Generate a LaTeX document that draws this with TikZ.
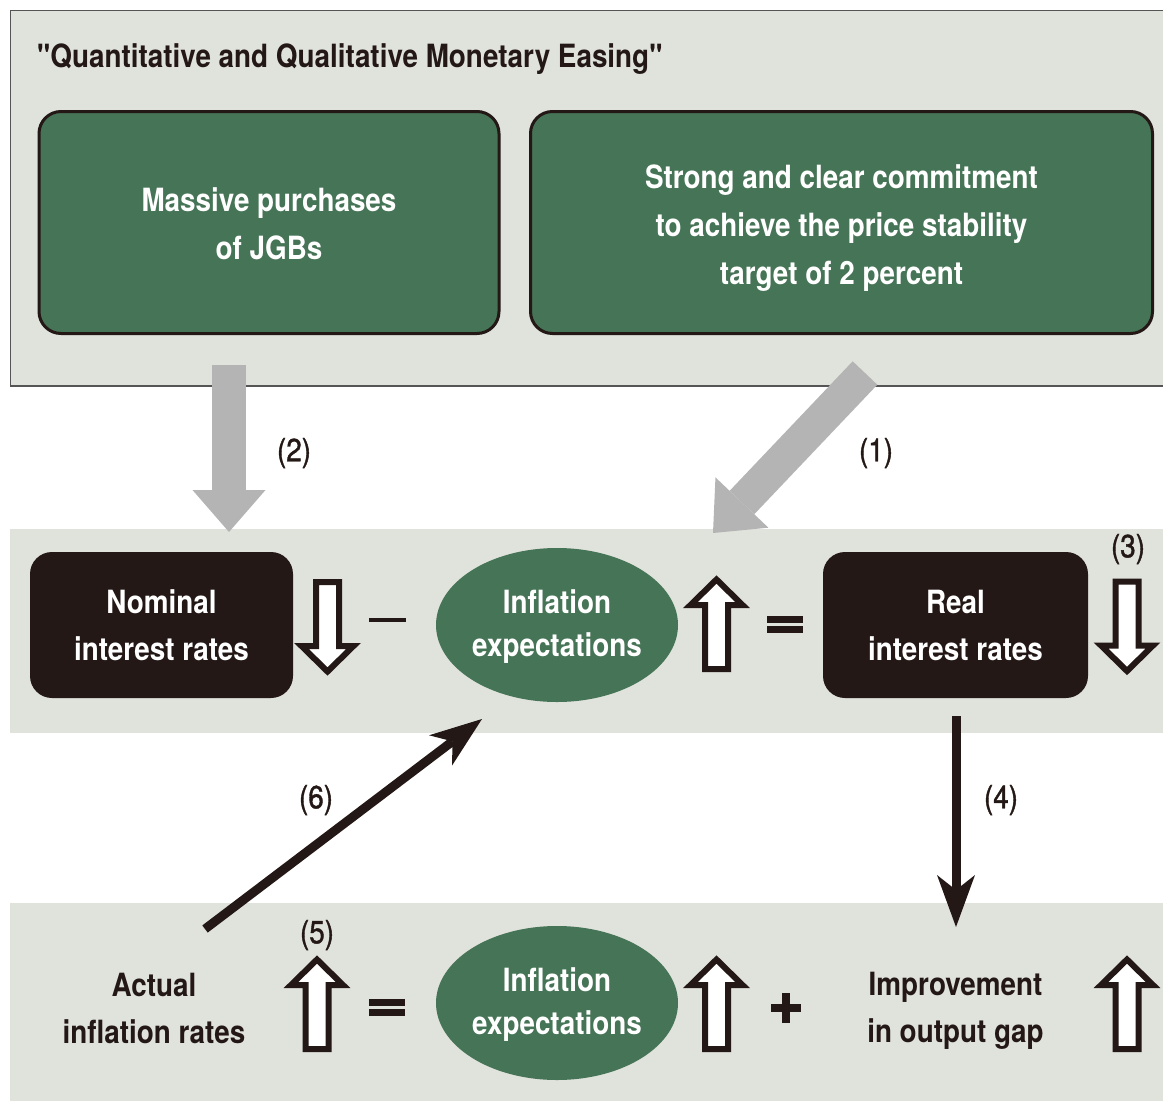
\documentclass[tikz,border=0pt]{standalone}
\usepackage{fontspec}
\setmainfont{TeX Gyre Heros}[FakeStretch=0.87]
\newfontfamily\plainq{TeX Gyre Heros}[FakeStretch=0.87]
\newfontfamily\numfont{TeX Gyre Heros}[FakeStretch=0.87, FakeBold=1.2]
\usetikzlibrary{arrows.meta,shapes.geometric}
\definecolor{ink}{HTML}{231815}
\definecolor{boj}{HTML}{467456}
\definecolor{panel}{HTML}{E0E2DC}
\definecolor{garrow}{HTML}{B4B4B4}
\definecolor{frame}{HTML}{555555}
\tikzset{
  uparr/.pic={\draw[ink, line width=6pt, fill=white, line join=miter]
     (0,-44) -- (26,-18.5) -- (11.5,-18.5) -- (11.5,45.5) -- (-11.5,45.5) -- (-11.5,-18.5) -- (-26,-18.5) -- cycle;},
  downarr/.pic={\draw[ink, line width=6pt, fill=white, line join=miter]
     (0,44) -- (26,18.5) -- (11.5,18.5) -- (11.5,-45.5) -- (-11.5,-45.5) -- (-11.5,18.5) -- (-26,18.5) -- cycle;}
}
\begin{document}
\begin{tikzpicture}[x=1pt,y=-1pt,
  greenbox/.style={draw=ink, line width=3pt, fill=boj, rounded corners=22pt, text=white,
     font=\fontsize{32}{48}\selectfont\bfseries, align=center, inner sep=0pt, minimum height=222pt},
  boxtext/.style={text=white, font=\fontsize{32}{48}\selectfont\bfseries, align=center, inner sep=0pt},
  darkbox/.style={fill=ink, rounded corners=22pt, text=white, minimum width=263pt, minimum height=146pt,
     font=\fontsize{32}{47}\selectfont\bfseries, align=center, inner sep=0pt},
  oval/.style={ellipse, fill=boj, text=white, minimum width=242pt, minimum height=154pt, inner sep=0pt,
     font=\fontsize{32}{43}\selectfont\bfseries, align=center},
  plaintxt/.style={text=ink, font=\fontsize{32}{47}\selectfont\bfseries, align=center, inner sep=0pt},
  num/.style={text=ink, font=\fontsize{32}{38}\selectfont\numfont, inner sep=0pt},
  bigarrow/.style={draw=garrow, line width=34pt, -{Triangle[length=42pt,width=73pt,line width=0pt]}},
  thinarrow/.style={draw=ink, line width=9pt, -{Stealth[length=52pt,width=38pt,inset=15pt,line width=0pt]}},
  sym/.style={fill=ink}
]
\useasboundingbox (0,0) rectangle (1163,1101);
\clip (0,0) rectangle (1163,1101);
\fill[white] (0,0) rectangle (1163,1101);

% panels
\draw[frame, line width=1.5pt, fill=panel] (10.5,10.5) rectangle (1190,386);
\fill[panel] (10,529) rectangle (1190,733);
\fill[panel] (10,903) rectangle (1190,1110);

% title
\node[plaintxt, anchor=base west] (title) at (37,67) {{\plainq\bfseries"}Quantitative and Qualitative Monetary Easing{\plainq\bfseries"}};

% green boxes
\node[greenbox, minimum width=460pt] (jgb) at (269,222.5) {};
\node[boxtext] (jgbtxt) at ([yshift=-1.5pt]jgb.center) {Massive purchases\\of JGBs};
\node[greenbox, minimum width=622pt] (commit) at (841.5,222.5) {};
\node[boxtext] (committxt) at ([yshift=-6pt]commit.center) {Strong and clear commitment\\to achieve the price stability\\target of 2 percent};

% middle row
\node[darkbox] (nominal) at (161.5,625) {Nominal\\interest rates};
\node[oval] (infl1) at (557,625) {};
\node[boxtext, font=\fontsize{32}{43}\selectfont\bfseries] (infl1txt) at ([yshift=-2pt]infl1.center) {Inflation\\expectations};
\node[darkbox, minimum width=265pt] (real) at (955.5,625) {Real\\interest rates};

% bottom row
\node[plaintxt] (actual) at (154,1008.5) {Actual\\inflation rates};
\node[oval] (infl2) at (557,1003) {};
\node[boxtext, font=\fontsize{32}{43}\selectfont\bfseries] (infl2txt) at ([yshift=-2pt]infl2.center) {Inflation\\expectations};
\node[plaintxt] (gap) at (955.5,1010.5) {Improvement\\in output gap};

% gray arrows
\coordinate (a2s) at (229,365);
\coordinate (a2e) at (229,532);
\coordinate (a1s) at (865,373);
\coordinate (a1e) at (713,533);
\draw[bigarrow] (a2s) -- (a2e);
\draw[bigarrow] (a1s) -- (a1e);

% black arrows
\coordinate (a4s) at (956,716);
\coordinate (a4e) at (956,927);
\coordinate (a6s) at (205,929);
\coordinate (a6e) at (482,719);
\draw[thinarrow] (a4s) -- (a4e);
\draw[thinarrow] (a6s) -- (a6e);

% labels
\node[num] (l1) at (876,453) {(1)};
\node[num] (l2) at (294,453) {(2)};
\node[num] (l3) at (1128,549) {(3)};
\node[num] (l4) at (1001,800) {(4)};
\node[num] (l5) at (317,935) {(5)};
\node[num] (l6) at (316,800) {(6)};

% hollow arrows
\pic at (327.5,627.5) {downarr};
\pic at (716.5,623.5) {uparr};
\pic at (1127,627) {downarr};
\pic at (317,1003.5) {uparr};
\pic at (716.5,1003.5) {uparr};
\pic at (1127,1003.5) {uparr};

% operators
\fill[sym] (369,618) rectangle (406,622);
\fill[sym] (767,616) rectangle (803,622.5);
\fill[sym] (767,626) rectangle (803,632.5);
\fill[sym] (369,999) rectangle (405,1006);
\fill[sym] (369,1009) rectangle (405,1016);
\fill[sym] (771,1004) rectangle (801,1012);
\fill[sym] (782,993) rectangle (790,1023);
\end{tikzpicture}
\end{document}
